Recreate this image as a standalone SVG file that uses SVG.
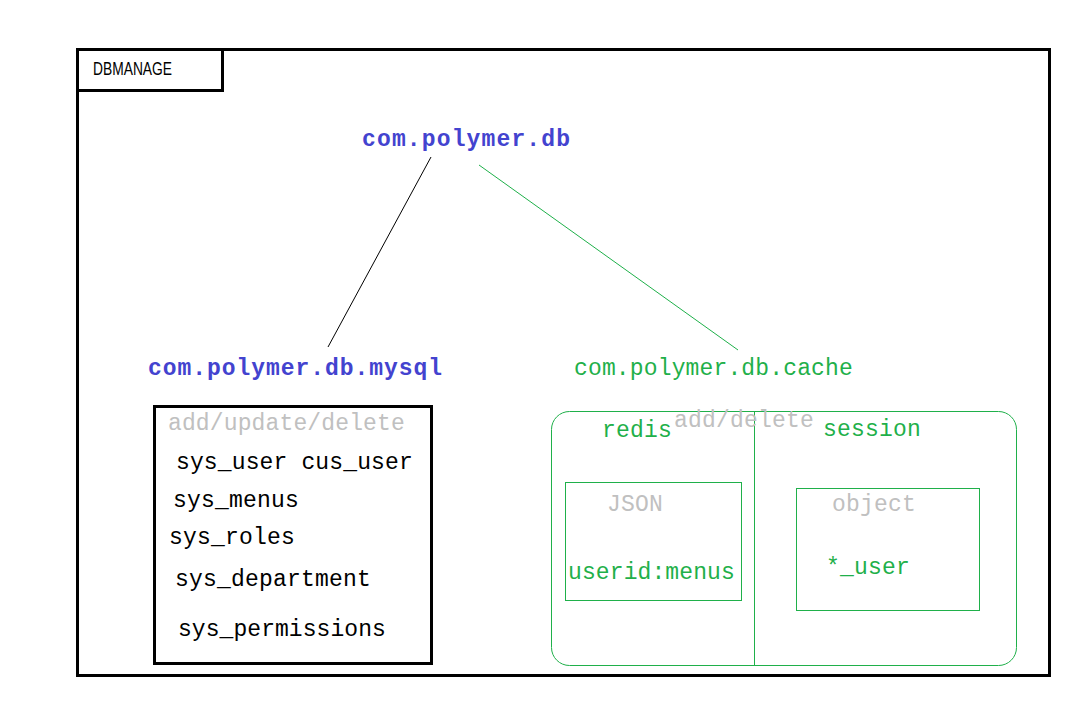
<svg xmlns="http://www.w3.org/2000/svg" width="1086" height="706" viewBox="0 0 1086 706">
<style>
.t{font-family:"Liberation Mono","DejaVu Sans Mono",monospace;font-size:23px}
.blue{fill:#4343cf;font-weight:bold;letter-spacing:1px}
.green{fill:#1fb04a;letter-spacing:0.2px}
.grey{fill:#c0c0c0;letter-spacing:0.2px}
.blk{fill:#000;letter-spacing:0.2px}
.gbox{fill:none;stroke:#1fb04a;stroke-width:1}
</style>
<rect width="1086" height="706" fill="#fff"/>
<g id="frame">
<rect x="77.5" y="49.5" width="972" height="626" fill="none" stroke="#000" stroke-width="3"/>
<rect x="77.5" y="49.5" width="145" height="41" fill="none" stroke="#000" stroke-width="3"/>
<text x="93" y="75" font-family="Liberation Sans,Arial,sans-serif" font-size="19" textLength="79" lengthAdjust="spacingAndGlyphs">DBMANAGE</text>
</g>
<g id="connectors">
<line x1="431" y1="157" x2="328" y2="347" stroke="#000" stroke-width="1"/>
<line x1="479" y1="165" x2="738" y2="350" stroke="#1fb04a" stroke-width="1"/>
</g>
<g id="root">
<text class="t blue" x="362" y="146" textLength="209" lengthAdjust="spacing">com.polymer.db</text>
</g>
<g id="mysql">
<text class="t blue" x="148" y="375" textLength="295" lengthAdjust="spacing">com.polymer.db.mysql</text>
<rect x="154.5" y="406.5" width="277" height="257" fill="none" stroke="#000" stroke-width="3"/>
<text class="t grey" x="168" y="430" textLength="237">add/update/delete</text>
<text class="t blk" x="176" y="469" textLength="237">sys_user cus_user</text>
<text class="t blk" x="173" y="507">sys_menus</text>
<text class="t blk" x="169" y="544">sys_roles</text>
<text class="t blk" x="175" y="586">sys_department</text>
<text class="t blk" x="178" y="636" textLength="208">sys_permissions</text>
</g>
<g id="cache">
<text class="t green" x="574" y="375" textLength="279">com.polymer.db.cache</text>
<rect class="gbox" x="551.5" y="411.5" width="465" height="254" rx="18"/>
<line x1="754.5" y1="411.5" x2="754.5" y2="665.5" stroke="#1fb04a"/>
<text class="t green" x="602" y="437">redis</text>
<text class="t grey" x="674" y="427">add/delete</text>
<text class="t green" x="823" y="436">session</text>
<rect class="gbox" x="565.5" y="482.5" width="176" height="118"/>
<text class="t grey" x="607" y="511">JSON</text>
<text class="t green" x="568" y="579" textLength="167">userid:menus</text>
<rect class="gbox" x="796.5" y="488.5" width="183" height="122"/>
<text class="t grey" x="832" y="511">object</text>
<text class="t green" x="826" y="574">*_user</text>
</g>
</svg>
